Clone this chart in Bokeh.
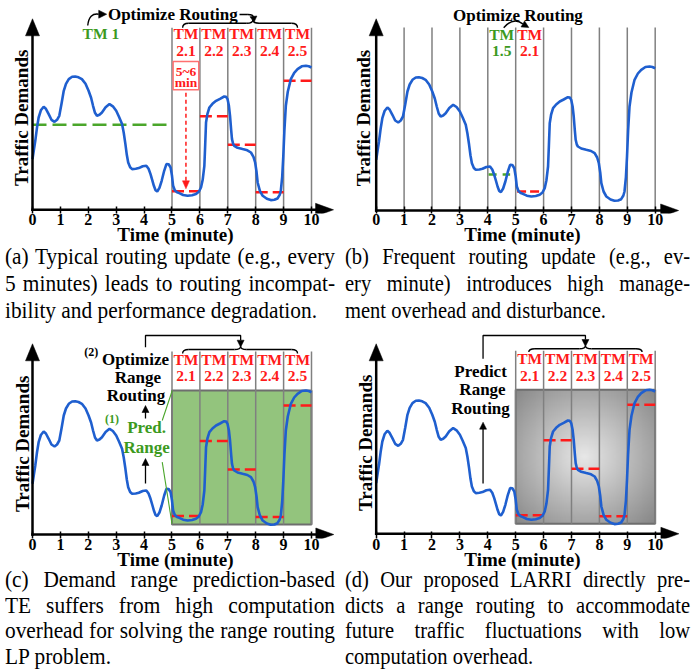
import numpy as np
from bokeh.plotting import figure
from bokeh.models import LinearAxis, FixedTicker, Div, Range1d
from bokeh.layouts import column, row
from bokeh.core.properties import value
from bokeh.embed import file_html
from bokeh.resources import INLINE

# ---------------- data ----------------
time_min = [0.00, 0.05, 0.10, 0.16, 0.22, 0.30, 0.40, 0.48, 0.58, 0.68, 0.79, 0.88, 0.96,
            1.04, 1.12, 1.20, 1.30, 1.42, 1.53, 1.65, 1.77, 1.90, 2.01, 2.10, 2.17, 2.24,
            2.31, 2.40, 2.49, 2.62, 2.76, 2.88, 3.00, 3.10, 3.21, 3.27, 3.33, 3.38, 3.43,
            3.50, 3.57, 3.70, 3.81, 3.95, 4.08, 4.16, 4.23, 4.30, 4.35, 4.41, 4.47, 4.55,
            4.63, 4.72, 4.80, 4.88, 4.95, 5.00, 5.04, 5.10, 5.18, 5.26, 5.40, 5.56, 5.72,
            5.86, 5.96, 6.04, 6.10, 6.16, 6.19, 6.22, 6.27, 6.34, 6.45, 6.58, 6.72, 6.87,
            6.94, 6.99, 7.04, 7.08, 7.12, 7.15, 7.19, 7.23, 7.35, 7.53, 7.70, 7.83, 7.92,
            7.98, 8.03, 8.07, 8.15, 8.25, 8.40, 8.54, 8.67, 8.78, 8.86, 8.90, 8.95, 8.99,
            9.03, 9.08, 9.15, 9.26, 9.38, 9.50, 9.65, 9.80, 9.90, 10.00]
demand = [50.7, 60.0, 69.0, 82.0, 92.3, 99.5, 103.0, 101.0, 95.7, 90.0, 88.0, 90.0, 94.0,
          106.0, 119.0, 126.0, 130.7, 133.0, 133.3, 132.5, 130.7, 126.0, 119.0, 112.0, 104.0, 97.0,
          94.0, 95.0, 97.3, 102.5, 105.7, 103.5, 99.0, 93.0, 85.7, 77.0, 65.7, 55.0, 47.3,
          42.5, 40.7, 41.0, 41.7, 43.5, 44.0, 41.0, 35.7, 29.0, 24.0, 19.5, 18.3, 22.0,
          29.0, 39.0, 45.7, 45.5, 42.3, 34.0, 24.0, 19.5, 17.5, 16.7, 14.8, 14.0, 14.5,
          15.7, 18.0, 22.3, 30.0, 44.0, 65.0, 87.3, 96.0, 102.3, 106.0, 109.0, 111.0, 113.3,
          113.0, 110.7, 104.0, 94.0, 80.0, 70.7, 66.0, 64.0, 62.0, 60.7, 59.5, 57.3, 53.0,
          47.3, 38.0, 27.3, 19.0, 14.0, 11.0, 9.7, 10.0, 11.3, 15.0, 19.0, 33.0, 54.0,
          80.0, 104.0, 118.0, 130.7, 137.0, 140.7, 143.5, 144.0, 143.5, 142.3]

ticks = [0, 1, 2, 3, 4, 5, 6, 7, 8, 9, 10]
update_ticks_a = [5, 6, 7, 8, 9, 10]
update_ticks_b = [1, 2, 3, 4, 5, 6, 7, 8, 9, 10]
tm_centers = [5.5, 6.5, 7.5, 8.5, 9.5]
tm_labels = ["2.1", "2.2", "2.3", "2.4", "2.5"]
red_start = [5, 6, 7, 8, 9]
red_end = [6, 7, 8, 9, 10]
red_level = [18.5, 93.5, 65.0, 17.5, 129.0]
tm1_level = 85.0
b_green = {"start": [4.03], "end": [4.80], "level": [36.0]}
b_red = {"start": [5.05], "end": [5.85], "level": [19.0]}
range_low, range_high = 10.0, 144.0

captions = {
    "a": ["(a) Typical routing update (e.g., every",
          "5 minutes) leads to routing incompat-",
          "ibility and performance degradation."],
    "b": ["(b) Frequent routing update (e.g., ev-",
          "ery minute) introduces high manage-",
          "ment overhead and disturbance."],
    "c": ["(c) Demand range prediction-based",
          "TE suffers from high computation",
          "overhead for solving the range routing",
          "LP problem."],
    "d": ["(d) Our proposed LARRI directly pre-",
          "dicts a range routing to accommodate",
          "future traffic fluctuations with low",
          "computation overhead."],
}

# ---------------- styles ----------------
SX = 27.9          # px per minute
SY = 1.0           # px per demand unit
FONT = "Liberation Serif"
BLUE = "#1f5fcf"
RED = "#ff1a1a"
GREEN_T = "#3c9a1e"
GREEN_L = "#4aa62a"
GREY = "#808080"


def txt(p, xs, ys, texts, size, color="black", align="center", angle=0.0, style="bold"):
    p.text(x=xs, y=ys, text=texts, text_font=value(FONT), text_font_style=style,
           text_font_size=size, text_color=color, text_align=align,
           text_baseline="middle", angle=angle)


def head(p, tx, ty, dx, dy, length=8.0, half=4.0, color="black"):
    n = (dx * dx + dy * dy) ** 0.5
    dx, dy = dx / n, dy / n
    bx, by = -dx * length, -dy * length
    ox, oy = -dy * half, dx * half
    xs = [tx, tx + (bx + ox) / SX, tx + (bx - ox) / SX]
    ys = [ty, ty + (by + oy) / SY, ty + (by - oy) / SY]
    p.patch(xs, ys, fill_color=color, line_color=color, line_width=0.5)


def brace(p, x0, x1, xm, y_end, y_body, y_tip, r=0.22):
    p.quadratic(x0=[x0, xm - r, xm, x1 - r], y0=[y_end, y_body, y_tip, y_body],
                x1=[x0 + r, xm, xm + r, x1], y1=[y_body, y_tip, y_body, y_end],
                cx=[x0, xm, xm, x1], cy=[y_body] * 4, line_color="black", line_width=1.4)
    p.segment(x0=[x0 + r, xm + r], y0=[y_body] * 2, x1=[xm - r, x1 - r], y1=[y_body] * 2,
              line_color="black", line_width=1.4)


BOT = 40   # reserved space under every frame (more than the axis needs)


def make_fig(xr, yr, fw, fh):
    p = figure(frame_width=fw, frame_height=fh, x_range=Range1d(*xr), y_range=Range1d(*yr),
               x_axis_type=None, y_axis_type=None, output_backend="svg",
               toolbar_location=None, min_border_left=0, min_border_right=0,
               min_border_top=0, min_border_bottom=BOT)
    p.outline_line_color = None
    p.grid.visible = False
    ax = LinearAxis(ticker=FixedTicker(ticks=ticks), axis_label="Time (minute)")
    ax.axis_line_color = None
    ax.major_tick_in = 7
    ax.major_tick_out = 0
    ax.major_tick_line_width = 1.5
    ax.major_tick_line_color = "black"
    ax.minor_tick_line_color = None
    ax.major_label_text_font = FONT
    ax.major_label_text_font_style = "bold"
    ax.major_label_text_font_size = "16px"
    ax.major_label_text_color = "black"
    ax.major_label_standoff = 0
    ax.axis_label_text_font = FONT
    ax.axis_label_text_font_style = "bold"
    ax.axis_label_text_font_size = "19px"
    ax.axis_label_text_color = "black"
    ax.axis_label_standoff = -4
    p.add_layout(ax, "below")
    return p


def axes_arrows(p, x_tip, y_tip, ylab_x, ylab_y):
    p.segment(x0=[-1.25 / SX], y0=[0], x1=[x_tip - 17 / SX], y1=[0],
              line_color="black", line_width=2.5)
    head(p, x_tip, 0, 1, 0, length=18, half=6.5)
    p.segment(x0=[0], y0=[-1.25], x1=[0], y1=[y_tip - 16], line_color="black", line_width=2.5)
    head(p, 0, y_tip, 0, 1, length=17, half=7)
    txt(p, [ylab_x], [ylab_y], ["Traffic Demands"], "19px", angle=np.pi / 2)


def tm_row(p, y_tm, y_num, color=RED, xs=None, labels=None):
    xs = tm_centers if xs is None else xs
    labels = tm_labels if labels is None else labels
    txt(p, xs, [y_tm] * len(xs), ["TM"] * len(xs), "15.5px", color)
    txt(p, xs, [y_num] * len(xs), labels, "15.5px", color)


def red_steps(p):
    p.segment(x0=red_start, y0=red_level, x1=red_end, y1=red_level,
              line_color=RED, line_width=2.5, line_dash="12 5")


def curve(p):
    p.line(time_min, demand, line_color=BLUE, line_width=2.6)


XR_L = (-1.147, 11.398)   # 350 px wide panel, y axis at 32 px
XR_R = (-0.921, 11.409)   # 344 px wide panel, y axis at 25.7 px

# ---------------- (a) ----------------
pa = make_fig(XR_L, (-3.7, 209.3), 350, 213)
pa.segment(x0=update_ticks_a, y0=[0] * 6, x1=update_ticks_a, y1=[182] * 6,
           line_color=GREY, line_width=1.5)
pa.segment(x0=[0], y0=[tm1_level], x1=[5], y1=[tm1_level], line_color=GREEN_L,
           line_width=2.5, line_dash="14 6")
red_steps(pa)
curve(pa)
axes_arrows(pa, 10.79, 191, -0.41, 92)
tm_row(pa, 176, 159)
txt(pa, [2.45], [176], ["TM 1"], "15.5px", GREEN_T)
txt(pa, [5.03], [195.0], ["Optimize Routing"], "17px")
pa.quadratic(x0=[1.98], y0=[184.3], x1=[2.37], y1=[195.6], cx=[2.03], cy=[197],
             line_color="black", line_width=1.4)
head(pa, 2.66, 195.6, 1, 0, length=8, half=4)
pa.segment(x0=[7.42], y0=[195.3], x1=[7.72], y1=[195.3], line_color="black", line_width=1.4)
pa.quadratic(x0=[7.72], y0=[195.3], x1=[7.92], y1=[192.5], cx=[7.91], cy=[195.3],
             line_color="black", line_width=1.4)
head(pa, 7.94, 187.5, 0.1, -1, length=6, half=3.5)
brace(pa, 5.38, 9.50, 7.90, 182, 186.5, 190)
pa.quad(left=[5.04], right=[5.96], bottom=[120], top=[148.3], fill_color="white",
        line_color="#ff7070", line_width=1.5)
txt(pa, [5.5, 5.5], [138.8, 127.3], ["5~6", "min"], "13.5px", RED)
pa.segment(x0=[5.5], y0=[117], x1=[5.5], y1=[28], line_color=RED, line_width=1.5,
           line_dash="4 3")
head(pa, 5.5, 21, 0, -1, length=8, half=3.5, color=RED)

# ---------------- (b) ----------------
pb = make_fig(XR_R, (-3.0, 210.0), 344, 213)
pb.segment(x0=update_ticks_b, y0=[0] * 10, x1=update_ticks_b, y1=[183] * 10,
           line_color=GREY, line_width=1.5)
pb.segment(x0=b_green["start"], y0=b_green["level"], x1=b_green["end"], y1=b_green["level"],
           line_color=GREEN_L, line_width=2.5, line_dash="8 6")
pb.segment(x0=b_red["start"], y0=b_red["level"], x1=b_red["end"], y1=b_red["level"],
           line_color=RED, line_width=2.5, line_dash="9 4")
curve(pb)
axes_arrows(pb, 10.84, 191.7, -0.44, 92.5)
txt(pb, [5.08], [195.0], ["Optimize Routing"], "17px")
tm_row(pb, 175.7, 160, GREEN_T, [4.5], ["1.5"])
tm_row(pb, 175.7, 160, RED, [5.5], ["2.1"])
pb.quadratic(x0=[4.57], y0=[182.7], x1=[5.255], y1=[186.6], cx=[4.92], cy=[194],
             line_color="black", line_width=1.4)
head(pb, 5.47, 183, 1, -0.6, length=7, half=3.5)

# ---------------- (c) ----------------
pc = make_fig(XR_L, (-4.0, 207.0), 350, 211)
pc.quad(left=[5], right=[10], bottom=[range_low], top=[range_high], fill_color="#93c47d",
        line_color="#6e6e6e", line_width=2)
pc.segment(x0=update_ticks_a, y0=[range_low] * 6, x1=update_ticks_a, y1=[183] * 6,
           line_color=GREY, line_width=1.5)
red_steps(pc)
curve(pc)
axes_arrows(pc, 10.8, 190.7, -0.37, 90.7)
tm_row(pc, 175.2, 159)
brace(pc, 5.38, 9.50, 7.46, 181, 185, 188)
pc.line([4.05, 4.05, 7.46, 7.46], [187.3, 199, 199, 194.3], line_color="black", line_width=1.3)
head(pc, 7.46, 187.3, 0, -1, length=7, half=3.5)
txt(pc, [2.11], [183], ["(2)"], "12px")
txt(pc, [3.69, 3.78, 3.71], [175, 157.3, 139], ["Optimize", "Range", "Routing"], "17px")
pc.segment(x0=[4.05, 4.05], y0=[116, 51], x1=[4.05, 4.05], y1=[123, 70],
           line_color="black", line_width=1.3)
head(pc, 4.05, 129, 0, 1, length=7, half=3.5)
head(pc, 4.05, 76, 0, 1, length=7, half=3.5)
txt(pc, [2.85], [116], ["(1)"], "12px", GREEN_T)
txt(pc, [4.09, 4.09], [107.3, 87.3], ["Pred.", "Range"], "17px", GREEN_T)
pc.segment(x0=[4.65, 4.65], y0=[114, 72.3], x1=[5.01, 5.0], y1=[144, 10.7],
           line_color=GREEN_L, line_width=1.1)

# ---------------- (d) ----------------
pd_ = make_fig(XR_R, (-4.7, 206.3), 344, 211)
ny, nx = 120, 150
tg, hg = np.meshgrid(np.linspace(5, 10, nx), np.linspace(range_low, range_high, ny))
rr = np.sqrt(((tg - 7.45) * SX) ** 2 + ((hg - 77) * SY) ** 2) / 100.0
gray = np.clip(232 - 100 * rr, 110, 255).astype(np.uint8)
img = np.empty((ny, nx), dtype=np.uint32)
view = img.view(dtype=np.uint8).reshape((ny, nx, 4))
view[..., 0] = gray
view[..., 1] = gray
view[..., 2] = gray
view[..., 3] = 255
pd_.image_rgba(image=[img], x=5, y=range_low, dw=5, dh=range_high - range_low)
pd_.quad(left=[5], right=[10], bottom=[range_low], top=[range_high], fill_color=None,
         line_color="#6e6e6e", line_width=2)
pd_.segment(x0=update_ticks_a, y0=[range_low] * 6, x1=update_ticks_a, y1=[183] * 6,
            line_color=GREY, line_width=1.5)
red_steps(pd_)
curve(pd_)
axes_arrows(pd_, 10.85, 190, -0.38, 91)
tm_row(pd_, 175.3, 158.3)
brace(pd_, 5.47, 9.53, 7.50, 181.7, 185, 188)
pd_.line([3.83, 3.83, 7.5, 7.5], [175, 198.3, 198.3, 194.3], line_color="black", line_width=1.3)
head(pd_, 7.5, 187.3, 0, -1, length=7, half=3.5)
txt(pd_, [3.74, 3.81, 3.74], [162.5, 144.3, 125.3], ["Predict", "Range", "Routing"], "17px")
pd_.segment(x0=[3.83], y0=[50.3], x1=[3.83], y1=[105], line_color="black", line_width=1.3)
head(pd_, 3.83, 111.6, 0, 1, length=7, half=3.5)


# ---------------- captions ----------------
def caption(lines, width, height, left, shown_w, scale, lh):
    inner = shown_w / scale
    parts = []
    for i, ln in enumerate(lines):
        last = i == len(lines) - 1
        al = "left" if last else "justify"
        parts.append(f'<div style="text-align:{al};text-align-last:{al};'
                     f'white-space:nowrap;">{ln}</div>')
    html = (f'<div style="height:{height}px;overflow:hidden;">'
            f'<div style="font-family:\'{FONT}\',serif;'
            f'font-size:24px;line-height:{lh}px;color:#000;width:{inner:.1f}px;'
            f'margin-left:{left}px;transform:scaleX({scale});transform-origin:0 0;">'
            + "".join(parts) + '</div></div>')
    return Div(text=html, width=width, height=height, margin=0)


ca = caption(captions["a"], 345, 84, 5, 330, 0.89, 27)
cb = caption(captions["b"], 349, 84, 0, 345, 0.855, 27)
cc = caption(captions["c"], 345, 102, 5, 330, 0.89, 25.5)
cd = caption(captions["d"], 349, 102, 0, 345, 0.855, 25.5)

# figures are 213+40 and 211+40 tall; pull the captions up over the spare space
row1 = row(pa, pb)
row2 = row(ca, cb, margin=(-(213 + BOT - 243), 0, 0, 0))
row3 = row(pc, pd_)
row4 = row(cc, cd, margin=(-(211 + BOT - 240), 0, 0, 0))
layout = column(row1, row2, row3, row4)
open("out.html", "w").write(file_html(layout, INLINE))
